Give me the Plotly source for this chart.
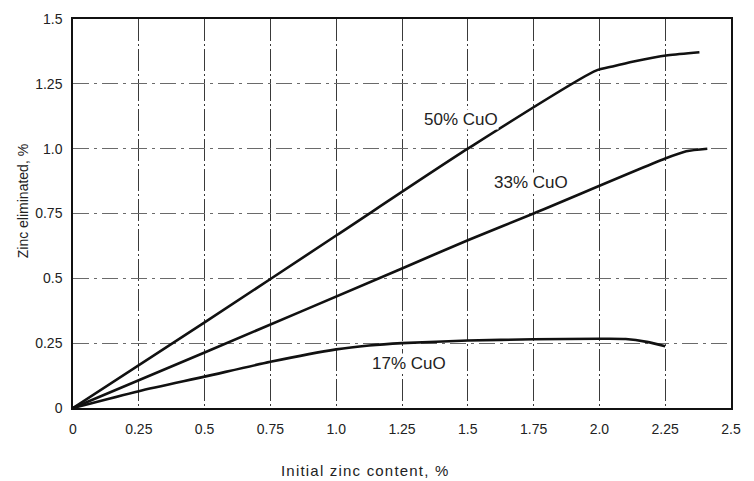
import plotly.graph_objects as go

# Zinc eliminated vs initial zinc content for three CuO additions
x_50 = [0, 0.5, 1.0, 1.5, 1.985, 2.05, 2.13, 2.26, 2.38]
y_50 = [0, 0.33, 0.665, 1.0, 1.30, 1.317, 1.336, 1.36, 1.372]

x_33 = [0, 0.5, 1.25, 1.5, 1.75, 2.25, 2.33, 2.41]
y_33 = [0, 0.214, 0.538, 0.647, 0.75, 0.962, 0.99, 1.0]

x_17 = [0, 0.25, 0.5, 0.75, 1.0, 1.125, 1.25, 1.5, 1.75, 2.0, 2.1, 2.18, 2.25]
y_17 = [0, 0.065, 0.121, 0.178, 0.226, 0.241, 0.25, 0.26, 0.265, 0.267, 0.266, 0.255, 0.238]

x_ticks = [0, 0.25, 0.5, 0.75, 1.0, 1.25, 1.5, 1.75, 2.0, 2.25, 2.5]
x_tick_text = ["0", "0.25", "0.5", "0.75", "1.0", "1.25", "1.5", "1.75", "2.0", "2.25", "2.5"]
y_ticks = [0, 0.25, 0.5, 0.75, 1.0, 1.25, 1.5]
y_tick_text = ["0", "0.25", "0.5", "0.75", "1.0", "1.25", "1.5"]

series_labels = ["50% CuO", "33% CuO", "17% CuO"]
label_pos = [(1.475, 1.113), (1.741, 0.869), (1.278, 0.173)]

fig = go.Figure()
for xs, ys, name in [(x_50, y_50, series_labels[0]),
                     (x_33, y_33, series_labels[1]),
                     (x_17, y_17, series_labels[2])]:
    fig.add_trace(go.Scatter(x=xs, y=ys, mode="lines", name=name,
                             line=dict(color="#111111", width=2.6, shape="spline", smoothing=0.7)))

for name, (lx, ly) in zip(series_labels, label_pos):
    fig.add_annotation(x=lx, y=ly, text=name, showarrow=False,
                       xanchor="center", yanchor="middle",
                       font=dict(family="Liberation Sans, Arial", size=17, color="#222222"),
                       bgcolor="white", borderpad=0)

tick_font = dict(family="Liberation Sans, Arial", size=14, color="#222222")

fig.update_xaxes(range=[0, 2.5], tickvals=x_ticks, ticktext=x_tick_text,
                 showgrid=True, gridcolor="#3a3a3a", gridwidth=1,
                 griddash="22px,3px,2px,3px",
                 showline=True, linecolor="#111111", linewidth=1.5, mirror=True,
                 ticks="", tickfont=tick_font, ticklabelstandoff=7, zeroline=False)
fig.update_yaxes(range=[0, 1.5], tickvals=y_ticks, ticktext=y_tick_text,
                 showgrid=True, gridcolor="#6a6a6a", gridwidth=1,
                 griddash="16px,5px,3px,5px",
                 showline=True, linecolor="#111111", linewidth=1.5, mirror=True,
                 ticks="", tickfont=tick_font, ticklabelstandoff=6, zeroline=False)

fig.add_annotation(xref="paper", yref="paper", x=(365 - 73) / 658, y=-(472 - 408) / 397,
                   xanchor="center", yanchor="middle",
                   text='<span style="letter-spacing:1.2px">Initial zinc content, %</span>',
                   showarrow=False,
                   font=dict(family="Liberation Sans, Arial", size=15, color="#222222"))
fig.add_annotation(xref="paper", yref="paper", x=-(73 - 23) / 658, y=(408 - 197) / 397,
                   xanchor="center", yanchor="middle",
                   text="Zinc eliminated, %", showarrow=False, textangle=-90,
                   font=dict(family="Liberation Sans, Arial", size=14, color="#222222"))

fig.update_layout(width=754, height=481, showlegend=False,
                  margin=dict(l=73, r=23, t=11, b=73),
                  plot_bgcolor="white", paper_bgcolor="white")

fig.write_html("out.html")
